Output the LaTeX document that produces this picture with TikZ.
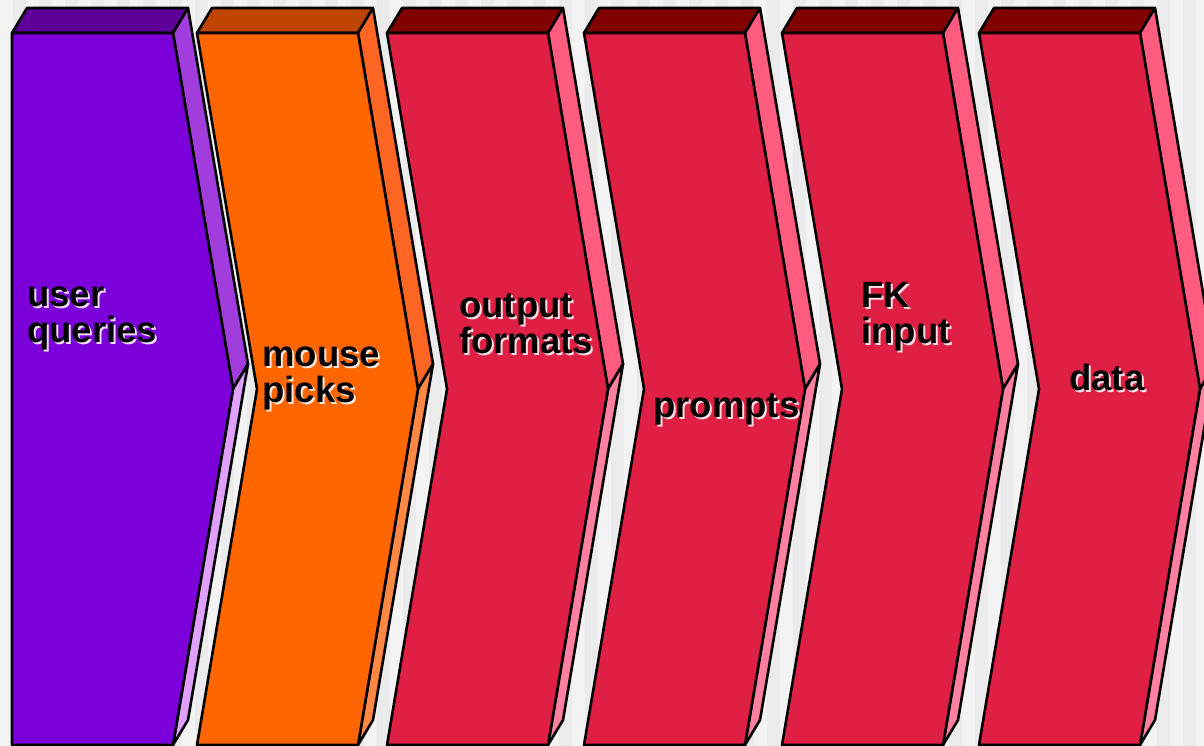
\documentclass[tikz,border=0pt]{standalone}
\usepackage{fontspec}
\setmainfont{Liberation Sans}

\definecolor{stripe}{HTML}{EBEBEB}
\definecolor{paper}{HTML}{F3F3F3}
\definecolor{purpleF}{HTML}{7C00DA}
\definecolor{purpleT}{HTML}{5E0099}
\definecolor{purpleS}{HTML}{A23DDD}
\definecolor{purpleL}{HTML}{E0A0FF}
\definecolor{orangeF}{HTML}{FF6600}
\definecolor{orangeT}{HTML}{BF4400}
\definecolor{orangeS}{HTML}{FF6624}
\definecolor{orangeL}{HTML}{FF8844}
\definecolor{redF}{HTML}{DF2044}
\definecolor{redT}{HTML}{800000}
\definecolor{redS}{HTML}{FF5C80}
\definecolor{redL}{HTML}{FF80A0}

% one chevron block: left x, front, top, upper side, lower side, notch depth
\newcommand{\chevbox}[6]{%
  \filldraw[fill=#3] (#1,33) -- ({#1+15},8) -- ({#1+176},8) -- ({#1+161},33) -- cycle;
  \filldraw[fill=#4] ({#1+161},33) -- ({#1+176},8) -- ({#1+236},364) -- ({#1+221},389) -- cycle;
  \filldraw[fill=#5] ({#1+221},389) -- ({#1+236},364) -- ({#1+176},720) -- ({#1+161},745) -- cycle;
  \filldraw[fill=#2] (#1,33) -- ({#1+161},33) -- ({#1+221},389) -- ({#1+161},745) -- (#1,745) -- ({#1+#6},389) -- cycle;
}

\begin{document}
\begin{tikzpicture}[x=1pt,y=-1pt,line width=2.6pt,line join=round,
    lbl/.style={font=\fontsize{36.5}{36}\selectfont\bfseries,align=left,anchor=base west,inner sep=0pt},
    glow/.style={lbl,text=white,opacity=0.85}]
        \useasboundingbox (0,0) rectangle (1204,746);
        \clip (0,0) rectangle (1204,746);
        \fill[paper] (0,0) rectangle (1204,746);
        \foreach \i in {0,...,46}
            \fill[stripe] ({\i*26+13},0) rectangle +(13,746);

        \chevbox{12}{purpleF}{purpleT}{purpleS}{purpleL}{0}
        \chevbox{197}{orangeF}{orangeT}{orangeS}{orangeL}{60}
        \chevbox{387}{redF}{redT}{redS}{redL}{60}
        \chevbox{584}{redF}{redT}{redS}{redL}{60}
        \chevbox{782}{redF}{redT}{redS}{redL}{60}
        \chevbox{979}{redF}{redT}{redS}{redL}{60}

        % labels with a light shadow (base = last line)
        \node[glow] (queries-sh) at (28,344) {user\\queries};
        \node[lbl] (queries) at (26,342) {user\\queries};
        \node[glow] (picks-sh) at (263,404) {mouse\\picks};
        \node[lbl] (picks) at (261,402) {mouse\\picks};
        \node[glow] (formats-sh) at (460,355) {output\\formats};
        \node[lbl] (formats) at (458,353) {output\\formats};
        \node[glow] (prompts-sh) at (654,419) {prompts};
        \node[lbl] (prompts) at (652,417) {prompts};
        \node[glow] (fk-sh) at (862,345) {FK\\input};
        \node[lbl] (fk) at (860,343) {FK\\input};
        \node[glow] (data-sh) at (1070,392) {data};
        \node[lbl] (data) at (1068,390) {data};
\end{tikzpicture}
\end{document}
